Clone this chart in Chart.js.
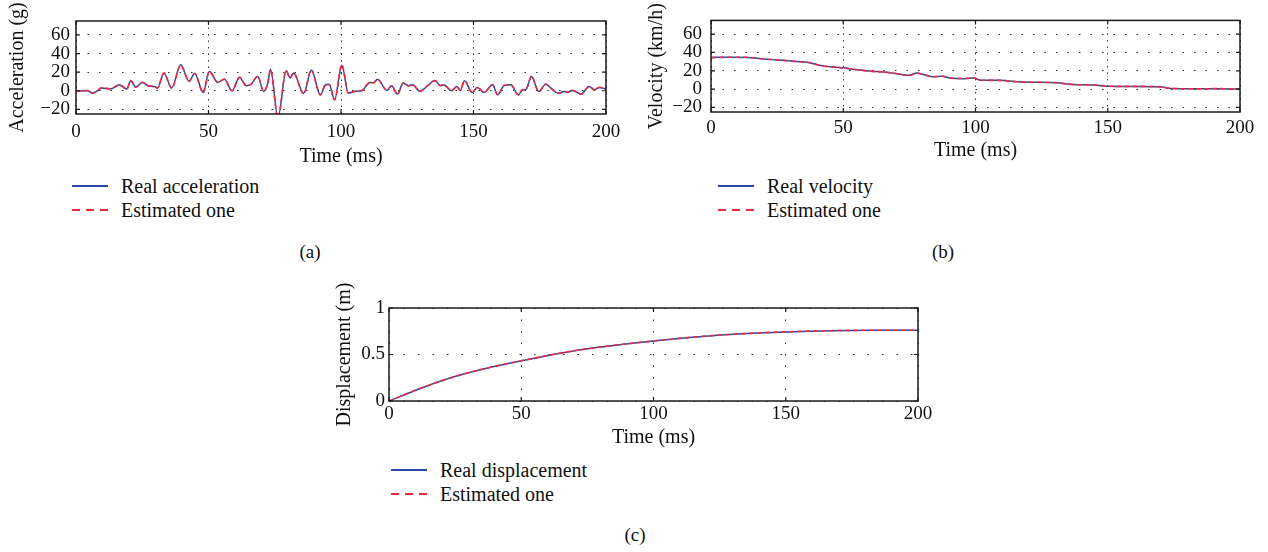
<!DOCTYPE html>
<html>
<head>
<meta charset="utf-8">
<script src="https://cdn.jsdelivr.net/npm/chart.js@4.4.1/dist/chart.umd.min.js"></script>
<style>
  body { margin: 0; background: #fff; width: 1268px; height: 552px; position: relative; overflow: hidden;
         font-family: "Liberation Serif", serif; color: #111; }
  canvas { position: absolute; }
  .txt { position: absolute; font-family: "Liberation Serif", serif; font-size: 20px; line-height: 24px; white-space: nowrap; }
  .cap { position: absolute; font-family: "Liberation Serif", serif; font-size: 19px; line-height: 24px; width: 40px; text-align: center; }
  .solid { position: absolute; width: 36px; height: 1.5px; background: #2b4aa8; }
  .dash { position: absolute; width: 36px; height: 1.5px;
          background: repeating-linear-gradient(90deg, #ee2a3c 0 8px, transparent 8px 14px); }
</style>
</head>
<body>
<canvas id="acc" width="630" height="170" style="left:0;top:0"></canvas>
<canvas id="vel" width="630" height="170" style="left:630px;top:0"></canvas>
<canvas id="disp" width="640" height="170" style="left:300px;top:280px"></canvas>

<!-- legends and captions -->
<div class="solid" style="left:72px;top:185px"></div>
<div class="txt" style="left:121px;top:174px">Real acceleration</div>
<div class="dash" style="left:72px;top:209px"></div>
<div class="txt" style="left:121px;top:198px">Estimated one</div>
<div class="cap" style="left:290px;top:240px">(a)</div>

<div class="solid" style="left:718px;top:185px"></div>
<div class="txt" style="left:767px;top:174px">Real velocity</div>
<div class="dash" style="left:718px;top:209px"></div>
<div class="txt" style="left:767px;top:198px">Estimated one</div>
<div class="cap" style="left:923px;top:240px">(b)</div>

<div class="solid" style="left:391px;top:469px"></div>
<div class="txt" style="left:440px;top:458px">Real displacement</div>
<div class="dash" style="left:391px;top:493px"></div>
<div class="txt" style="left:440px;top:482px">Estimated one</div>
<div class="cap" style="left:615px;top:523px">(c)</div>

<script>
// values
const timeTicks = [0, 50, 100, 150, 200];
const accTicks = [-20, 0, 20, 40, 60];
const velTicks = [-20, 0, 20, 40, 60];
const dispTicks = [0, 0.5, 1];

const timeAcc = [0, 4.3, 6.2, 7.8, 9.6, 13.1, 15, 16.2, 17.5, 19.1, 20.7, 22.5, 25.1, 27.2, 29.5, 30.7, 33.2, 36.1, 39.5, 42.7,
  44.8, 48, 50.3, 53.5, 56, 58.9, 61.7, 64.2, 66, 68.6, 70.8, 72.4, 73.4, 76.2, 79.3, 80.8, 82.1, 85.9, 88.8, 92.2,
  94.2, 95.5, 97.6, 100.3, 102.8, 105.3, 107.8, 111, 112.2, 113.8, 117.3, 119.1, 121.3, 123.5, 125.4, 127, 129.8, 132.4, 135.5, 137.4,
  138.7, 141.8, 143.7, 145, 146.6, 149.5, 151.5, 154, 157.2, 159.1, 161.6, 164.1, 166.9, 168.5, 169.8, 171.9, 174.6, 177.3, 179.2, 182,
  184.3, 185.5, 187.4, 190.6, 193.7, 195.6, 197.5, 200];
const accReal = [0, 0, -2.5, -0.7, 2.9, 2.1, 4.6, 6.4, 4.6, 1.8, 10.7, 3.9, 8.9, 5.4, 4.6, 2.9, 18.9, 2.9, 27.9, 10,
  18.9, -1.8, 20.7, 9, 12.5, 0, 14.6, 5.4, 7, 15.4, -0.7, 8.2, 23, -29, 21.4, 14, 19, -3, 22, -4.3,
  6.4, 7, -9.6, 27.5, -2.5, -0.7, 0, 9, 8.5, 12.5, 0.4, 5.4, -3.6, 8.2, 5.4, 6.4, -0.7, 4.6, 11, 5.4,
  6.4, 0, 4.6, 0.4, 10.7, -1.8, 3.6, -1.8, 6.4, -4.3, 5.7, 6.4, -4.3, 1, 1.5, 15.4, -0.7, 7, 2.9, -2.5,
  -0.7, -1.5, 0.4, -3.6, 4.6, 1, 3.6, 1.8];
const accEst = [-0.3, 0.2, -2.7, -0.6, 3.1, 2, 4.8, 6.2, 4.8, 1.6, 10.9, 3.7, 9.1, 5.2, 4.8, 2.7, 19.2, 2.6, 27.5, 10.3,
  18.6, -2.1, 21, 8.8, 12.7, -0.2, 14.4, 5.6, 6.8, 15.6, -0.9, 8.4, 22.6, -29.5, 21.7, 13.8, 19.3, -3.3, 22.3, -4.6,
  6.6, 6.8, -9.9, 27.9, -2.8, -0.5, 0.2, 9.3, 8.3, 12.3, 0.6, 5.2, -3.9, 8.4, 5.2, 6.6, -0.5, 4.8, 10.8, 5.6,
  6.2, 0.2, 4.8, 0.2, 10.9, -2, 3.8, -1.6, 6.6, -4.5, 5.9, 6.2, -4.5, 1.2, 1.3, 15.7, -0.9, 7.2, 2.7, -2.7,
  -0.5, -1.7, 0.6, -3.8, 4.8, 0.8, 3.8, 1.6];

const timeVel = [0, 7, 13.6, 20, 25, 31.3, 37.6, 41.4, 46.5, 50.3, 55.3, 60.4, 65.4, 70.5, 74.9, 77.8, 80.6, 83.7,
  87.4, 90.5, 95.6, 99.4, 101.9, 109.4, 115.7, 123.2, 130.8, 137.1, 145.9, 149.7, 158.6, 169.9, 173.7, 183.8, 191.3, 200];
const velReal = [34.6, 34.8, 34.6, 32.9, 31.8, 30.4, 28.6, 25.7, 24, 23.2, 21, 19.6, 18.6, 16.8, 15, 17.5, 15.7, 13.6,
  13.9, 12.1, 11.4, 12.1, 9.6, 9.6, 7.9, 7.5, 6.8, 5, 4.3, 3.2, 2.9, 2.5, 0.7, 0.4, 0.4, 0];
const velEst = [34.4, 34.7, 34.7, 32.8, 31.9, 30.3, 28.8, 25.6, 24.1, 23, 21.1, 19.5, 18.7, 16.7, 15.1, 17.3, 15.8, 13.5,
  14, 12, 11.5, 12, 9.7, 9.5, 8, 7.4, 6.9, 4.9, 4.4, 3.1, 3, 2.4, 0.8, 0.3, 0.5, 0.1];

const timeDisp = [0, 12.9, 25.5, 38.1, 50, 65.9, 78.5, 95, 100, 116.2, 135, 150, 166.5, 185, 200];
const dispReal = [0, 0.146, 0.268, 0.36, 0.432, 0.52, 0.575, 0.63, 0.645, 0.689, 0.725, 0.743, 0.755, 0.76, 0.761];
const dispEst = [0, 0.147, 0.268, 0.361, 0.432, 0.521, 0.575, 0.631, 0.645, 0.69, 0.725, 0.744, 0.756, 0.761, 0.761];

const tickFont = { family: 'Liberation Serif', size: 19 };
const titleFont = { family: 'Liberation Serif', size: 20 };

function pts(xs, ys) {
  return xs.map((x, i) => ({ x: x, y: ys[i] }));
}

function label(v) {
  return v < 0 ? '\u2212' + Math.abs(v) : String(v);
}

// matlab style box with tick marks pointing inwards
const boxPlugin = {
  id: 'box',
  afterDraw(chart) {
    const ctx = chart.ctx;
    const a = chart.chartArea;
    const sx = chart.scales.x, sy = chart.scales.y;
    ctx.save();
    ctx.strokeStyle = '#1a1a1a';
    ctx.lineWidth = 1.5;
    ctx.strokeRect(a.left, a.top, a.right - a.left, a.bottom - a.top);
    ctx.lineWidth = 1.2;
    ctx.beginPath();
    sx.ticks.forEach(t => {
      const px = sx.getPixelForValue(t.value);
      ctx.moveTo(px, a.bottom); ctx.lineTo(px, a.bottom - 4);
      ctx.moveTo(px, a.top); ctx.lineTo(px, a.top + 4);
    });
    sy.ticks.forEach(t => {
      const py = sy.getPixelForValue(t.value);
      ctx.moveTo(a.left, py); ctx.lineTo(a.left + 4, py);
      ctx.moveTo(a.right, py); ctx.lineTo(a.right - 4, py);
    });
    ctx.stroke();
    ctx.restore();
  }
};

function makeChart(id, o) {
  const ctx = document.getElementById(id).getContext('2d');
  return new Chart(ctx, {
    type: 'line',
    data: {
      // the estimated (red dashed) curve comes first so it is drawn on top
      datasets: [
        {
          label: 'Estimated one',
          data: pts(o.t, o.est),
          borderColor: '#ee2a3c',
          borderWidth: 1.6,
          borderDash: [5, 3],
          pointRadius: 0,
          cubicInterpolationMode: 'monotone'
        },
        {
          label: o.realLabel,
          data: pts(o.t, o.real),
          borderColor: '#2b4aa8',
          borderWidth: 1.5,
          pointRadius: 0,
          cubicInterpolationMode: 'monotone'
        }
      ]
    },
    options: {
      responsive: false,
      animation: false,
      layout: { padding: o.pad },
      plugins: {
        legend: { display: false },
        tooltip: { enabled: false }
      },
      scales: {
        x: {
          type: 'linear',
          min: 0,
          max: 200,
          afterBuildTicks: s => { s.ticks = timeTicks.map(v => ({ value: v })); },
          afterFit: s => { s.height = o.xh; },
          grid: { color: '#333', lineWidth: 1, drawTicks: false },
          border: { display: false, dash: o.xdash },
          ticks: { padding: o.xpad, color: '#111', font: tickFont, maxRotation: 0, autoSkip: false, callback: v => label(v) },
          title: { display: true, text: 'Time (ms)', color: '#111', font: titleFont, padding: { top: 0, bottom: o.xtp } }
        },
        y: {
          min: o.ymin,
          max: o.ymax,
          afterBuildTicks: s => { s.ticks = o.yticks.map(v => ({ value: v })); },
          afterFit: s => { s.width = o.yw; },
          grid: { color: '#333', lineWidth: 1, drawTicks: false },
          border: { display: false, dash: o.ydash },
          ticks: { padding: o.ypad, color: '#111', font: tickFont, autoSkip: false, callback: v => label(v) },
          title: { display: true, text: o.ytitle, color: '#111', font: titleFont, padding: { top: o.ytp, bottom: 0 } }
        }
      }
    },
    plugins: [boxPlugin]
  });
}

makeChart('acc', {
  realLabel: 'Real acceleration', t: timeAcc, real: accReal, est: accEst,
  ymin: -25, ymax: 75, yticks: accTicks, ytitle: 'Acceleration (g)',
  pad: { top: 21, right: 24, left: 0, bottom: 0 },
  yw: 76, xh: 56, ypad: 6, xpad: 7, xtp: 1, ytp: 6,
  xdash: [1.5, 5], ydash: [1.5, 10]
});

makeChart('vel', {
  realLabel: 'Real velocity', t: timeVel, real: velReal, est: velEst,
  ymin: -25, ymax: 75, yticks: velTicks, ytitle: 'Velocity (km/h)',
  pad: { top: 19, right: 20, left: 0, bottom: 0 },
  yw: 81, xh: 58, ypad: 9, xpad: 5, xtp: 7, ytp: 15,
  xdash: [1.5, 5], ydash: [1.5, 10]
});

makeChart('disp', {
  realLabel: 'Real displacement', t: timeDisp, real: dispReal, est: dispEst,
  ymin: 0, ymax: 1, yticks: dispTicks, ytitle: 'Displacement (m)',
  pad: { top: 28, right: 22, left: 0, bottom: 0 },
  yw: 89, xh: 49, ypad: 4, xpad: 2, xtp: 0, ytp: 33,
  xdash: [1.5, 10], ydash: [1.5, 13]
});
</script>
</body>
</html>
